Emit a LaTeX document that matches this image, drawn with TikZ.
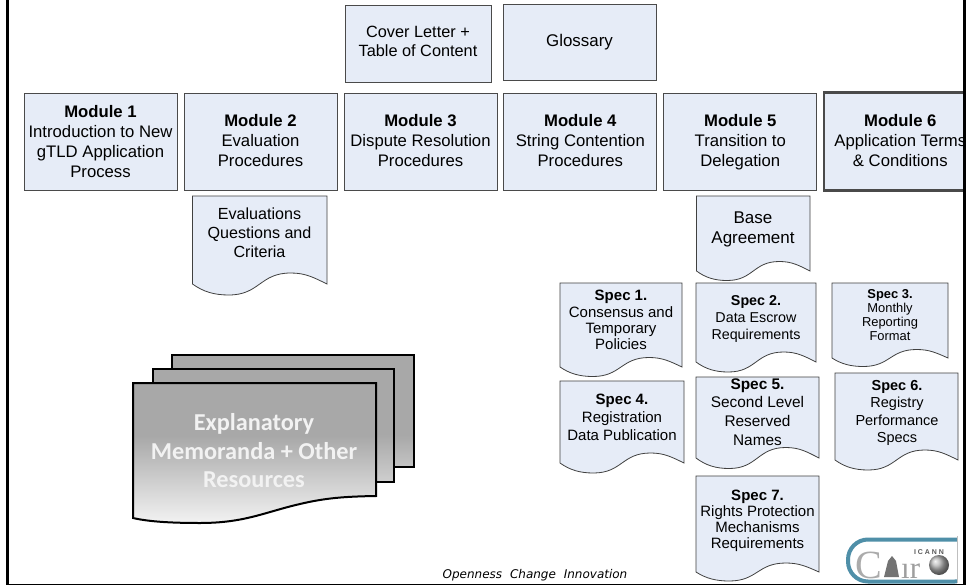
\documentclass[tikz,border=0pt]{standalone}
\usepackage{fontspec}
\setmainfont{Liberation Sans}
\newfontfamily\carlitofont{Carlito}
\newfontfamily\dejafont{DejaVu Sans}
\newfontfamily\timesfont{Liberation Serif}
\definecolor{boxfill}{HTML}{E6ECF7}
\definecolor{boxline}{HTML}{4A4A4A}
\definecolor{logoteal}{HTML}{4F8FA8}
\pgfdeclareverticalshading{memoback}{100bp}{color(0bp)=(black!23);color(25bp)=(black!23);color(39bp)=(black!34);color(100bp)=(black!34)}
\pgfdeclareverticalshading{memomid}{100bp}{color(0bp)=(black!19);color(25bp)=(black!19);color(46bp)=(black!34);color(100bp)=(black!34)}
\pgfdeclareverticalshading{memofront}{100bp}{color(0bp)=(black!5);color(25bp)=(black!5);color(56bp)=(black!34);color(100bp)=(black!34)}
\tikzset{
  plainbox/.style={draw=boxline,line width=0.8pt,fill=boxfill,inner sep=0pt},
  sheet/.style={draw=black!75,line width=0.8pt,fill=boxfill},
  modtext/.style={align=center,text depth=3.5pt,font=\fontsize{16.7}{20}\selectfont},
  doctext/.style={align=center,font=\fontsize{16.1}{19}\selectfont},
  spectext/.style={align=center,font=\fontsize{14.3}{17}\selectfont},
  smalltext/.style={align=center,font=\fontsize{12.9}{14}\selectfont},
  memoline/.style={draw=black,line width=2pt}
}
% x1,top,x2,end y,wave amplitude,style
\newcommand{\docpath}[6]{%
  \pgfmathsetmacro{\docw}{#3-#1}%
  \path[#6] (#1,#2) -- (#3,#2) -- (#3,#4)
    .. controls ({#3-.1*\docw},{#4-.6*#5}) and ({#3-.16*\docw},{#4-#5}) .. ({#3-.27*\docw},{#4-#5})
    .. controls ({#3-.5*\docw},{#4-#5}) and ({#1+.5*\docw},{#4+#5}) .. ({#1+.27*\docw},{#4+#5})
    .. controls ({#1+.16*\docw},{#4+#5}) and ({#1+.08*\docw},{#4+.7*#5}) .. (#1,#4) -- cycle;}
\begin{document}
\begin{tikzpicture}[x=1pt,y=-1pt]
\useasboundingbox (0,0) rectangle (966,586);
\fill[white] (0,0) rectangle (966,586);
% rectangles
\node[plainbox,minimum width=146pt,minimum height=77pt,inner sep=0pt] (cover) at (418,43.5) {};
\node[modtext,font=\fontsize{16.3}{19}\selectfont] (covert) at (418,43.5) {Cover Letter +\\Table of Content};
\node[plainbox,minimum width=153pt,minimum height=76pt,modtext,font=\fontsize{16.9}{20}\selectfont] (gloss) at (579.5,42) {Glossary};
\node[plainbox,minimum width=153pt,minimum height=97pt] (m1) at (100.5,141.5) {};
\node[modtext] (m1t) at (100.5,143) {\textbf{Module 1}\\Introduction to New\\gTLD Application\\Process};
\node[plainbox,minimum width=153pt,minimum height=97pt] (m2) at (260.5,141.5) {};
\node[modtext] (m2t) at (260.5,142.5) {\textbf{Module 2}\\Evaluation\\Procedures};
\node[plainbox,minimum width=153pt,minimum height=97pt] (m3) at (420.5,141.5) {};
\node[modtext] (m3t) at (420.5,142.5) {\textbf{Module 3}\\Dispute Resolution\\Procedures};
\node[plainbox,minimum width=153pt,minimum height=97pt] (m4) at (580.3,141.5) {};
\node[modtext] (m4t) at (580.3,142.5) {\textbf{Module 4}\\String Contention\\Procedures};
\node[plainbox,minimum width=153pt,minimum height=97pt] (m5) at (740.3,141.5) {};
\node[modtext] (m5t) at (740.3,142.5) {\textbf{Module 5}\\Transition to\\Delegation};
% documents
\docpath{192.5}{196}{327}{284}{11}{sheet}
\node[doctext] (evq) at (259.5,233) {Evaluations\\Questions and\\Criteria};
\docpath{696.5}{196}{810}{271}{9.5}{sheet}
\node[doctext,font=\fontsize{17}{20}\selectfont] (base) at (753,229.5) {Base\\Agreement};
\docpath{560}{283}{682}{367}{9.5}{sheet}
\node[spectext,font=\fontsize{15}{16.2}\selectfont] (s1) at (621,320) {\textbf{Spec 1.}\\Consensus and\\Temporary\\Policies};
\docpath{696}{283}{816}{362}{10}{sheet}
\node[spectext] (s2) at (756,318.5) {\textbf{Spec 2.}\\Data Escrow\\Requirements};
\docpath{832}{283}{948}{358}{8.5}{sheet}
\node[smalltext] (s3) at (890,315) {\textbf{Spec 3.}\\Monthly\\Reporting\\Format};
\docpath{560}{381}{684}{463}{10}{sheet}
\node[spectext,font=\fontsize{15}{18}\selectfont] (s4) at (622,417) {\textbf{Spec 4.}\\Registration\\Data Publication};
\docpath{696}{377}{819}{458}{10.5}{sheet}
\node[doctext,font=\fontsize{15.4}{18.8}\selectfont] (s5) at (757.5,412) {\textbf{Spec 5.}\\Second Level\\Reserved\\Names};
\docpath{835}{373}{958}{460}{10}{sheet}
\node[spectext,font=\fontsize{14.5}{17.6}\selectfont] (s6) at (897,413) {\textbf{Spec 6.}\\Registry\\Performance\\Specs};
\docpath{696}{476}{819}{572}{9}{sheet}
\node[spectext,font=\fontsize{15}{16}\selectfont] (s7) at (757.5,521) {\textbf{Spec 7.}\\Rights Protection\\Mechanisms\\Requirements};
% module 6 thick box
\node[draw=boxline,line width=2.2pt,fill=boxfill,minimum width=146pt,minimum height=98pt,inner sep=0pt] (m6) at (897,141.5) {};
\node[modtext] (m6t) at (900.3,142.5) {\textbf{Module 6}\\Application Terms\\\& Conditions};
% memoranda stack
\path[memoline,shading=memoback] (172,355) rectangle (414,467);
\path[memoline,shading=memomid] (153,369) rectangle (394,482);
\path[memoline,shading=memofront] (133,383) -- (376,383) -- (376,496)
  .. controls (345,496.5) and (325,498) .. (300,504)
  .. controls (265,512) and (245,523) .. (200,523)
  .. controls (175,523) and (150,522) .. (133,518) -- cycle;
\node[align=center,text=white!95!black,font=\carlitofont\bfseries\fontsize{24.3}{28.5}\selectfont] (memo) at (254,451) {Explanatory\\Memoranda + Other\\Resources};
% logo
\draw[draw=logoteal,line width=4pt,fill=white,rounded corners=20pt] (848,539.5) rectangle (975,581.5);
\node[anchor=base west,text=black!33,inner sep=0pt,font=\timesfont\fontsize{40}{40}\selectfont] (cairo) at (855,578) {C};
\node[anchor=base west,text=black!38,inner sep=0pt,font=\timesfont\fontsize{31}{31}\selectfont] (cairoi) at (901,578) {ır};
\fill[black!55] (884,577) -- (888,561) -- (892,556) -- (896,561) -- (899,577) -- cycle;
\node[anchor=base,text=black!65,inner sep=0pt,font=\bfseries\fontsize{7}{8}\selectfont] (icann) at (929,554.5) {I C A N N};
\shade[ball color=black!30] (939,565) circle (10pt);
\fill[white] (957,536) rectangle (966,586);
\draw[black!25,line width=.5pt] (957,536) -- (957,583);
% page number hidden by the frame
\node[anchor=base,inner sep=0pt,font=\fontsize{10}{10}\selectfont] (pg) at (710,591.5) {11};
% frame lines
\fill[black] (6,0) rectangle (8.5,586);
\fill[black] (962.8,0) rectangle (966,586);
\fill[black] (6,583.6) rectangle (966,585.2);
\fill[white] (6,585.2) rectangle (966,586);
% footer
\node[anchor=base,font=\dejafont\itshape\fontsize{12}{14}\selectfont] (foot) at (535,578.6) {Openness\hspace{4pt} Change\hspace{4pt} Innovation};
\end{tikzpicture}
\end{document}
